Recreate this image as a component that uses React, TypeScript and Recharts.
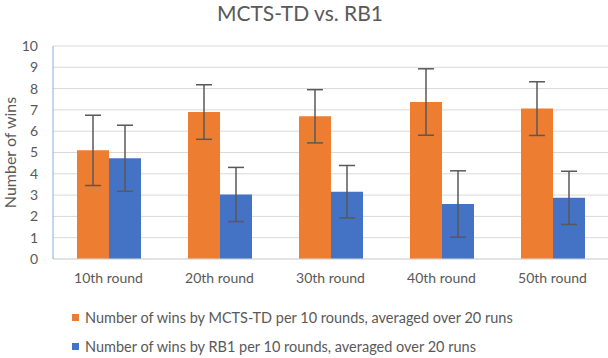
import { Bar, BarChart, CartesianGrid, ErrorBar, Label, Legend, XAxis, YAxis } from "recharts";

const categories = ["10th round", "20th round", "30th round", "40th round", "50th round"];
const mctsWins = [5.1, 6.9, 6.7, 7.37, 7.06];
const mctsErr = [1.65, 1.28, 1.25, 1.56, 1.26];
const rb1Wins = [4.73, 3.03, 3.16, 2.58, 2.87];
const rb1Err = [1.55, 1.27, 1.23, 1.56, 1.25];
const yTicks = [0, 1, 2, 3, 4, 5, 6, 7, 8, 9, 10];

const MCTS_LABEL = "Number of wins by MCTS-TD per 10 rounds, averaged over 20 runs";
const RB1_LABEL = "Number of wins by RB1 per 10 rounds, averaged over 20 runs";

const ORANGE = "#ED7D31";
const BLUE = "#4472C4";
const TEXT = "#595959";
const FONT = "Lato, 'Noto Sans', sans-serif";

const data = categories.map((name, i) => ({
  name,
  mcts: mctsWins[i],
  mctsErr: mctsErr[i],
  rb1: rb1Wins[i],
  rb1Err: rb1Err[i],
}));

function LegendBox() {
  const items = [
    { label: MCTS_LABEL, color: ORANGE },
    { label: RB1_LABEL, color: BLUE },
  ];
  return (
    <div style={{ fontFamily: FONT, fontSize: 14.5, color: TEXT, textAlign: "left" }}>
      {items.map((item) => (
        <div
          key={item.label}
          style={{ display: "flex", alignItems: "center", height: 29 }}
        >
          <span
            style={{
              display: "inline-block",
              width: 7,
              height: 7,
              background: item.color,
              marginRight: 6,
            }}
          />
          {item.label}
        </div>
      ))}
    </div>
  );
}

export default function App() {
  return (
    <div
      style={{
        position: "absolute",
        left: 0,
        top: 0,
        width: 608,
        height: 358,
        background: "#fff",
        fontFamily: FONT,
      }}
    >
      <div
        style={{
          position: "absolute",
          top: 0,
          left: 0,
          width: 600,
          textAlign: "center",
          fontSize: 21,
          color: TEXT,
          lineHeight: "26px",
        }}
      >
        MCTS-TD vs. RB1
      </div>
      <BarChart
        width={608}
        height={358}
        data={data}
        margin={{ top: 46, right: 0, bottom: 11, left: 0 }}
        barSize={32}
        barGap={0}
      >
        <CartesianGrid vertical={false} stroke="#d9d9d9" />
        <XAxis
          dataKey="name"
          tickLine={false}
          axisLine={{ stroke: "#d9d9d9" }}
          tickSize={0}
          tickMargin={14}
          height={30}
          interval={0}
          tick={{ fill: TEXT, fontSize: 14, fontFamily: FONT }}
        />
        <YAxis
          domain={[0, 10]}
          ticks={yTicks}
          interval={0}
          width={53}
          tickLine={false}
          tickSize={0}
          tickMargin={15}
          axisLine={{ stroke: "#8FAADC" }}
          tick={{ fill: TEXT, fontSize: 14, fontFamily: FONT }}
        >
          <Label
            value="Number of wins"
            angle={-90}
            position="center"
            dx={-16}
            style={{ fill: TEXT, fontSize: 16, fontFamily: FONT }}
          />
        </YAxis>
        <Legend
          verticalAlign="bottom"
          align="left"
          layout="horizontal"
          content={() => <LegendBox />}
          wrapperStyle={{ left: 72, top: 303, width: 520, height: 58 }}
        />
        <Bar dataKey="mcts" name={MCTS_LABEL} fill={ORANGE} isAnimationActive={false}>
          <ErrorBar
            dataKey="mctsErr"
            width={8}
            stroke={TEXT}
            strokeWidth={1.5}
            direction="y"
            isAnimationActive={false}
          />
        </Bar>
        <Bar dataKey="rb1" name={RB1_LABEL} fill={BLUE} isAnimationActive={false}>
          <ErrorBar
            dataKey="rb1Err"
            width={8}
            stroke={TEXT}
            strokeWidth={1.5}
            direction="y"
            isAnimationActive={false}
          />
        </Bar>
      </BarChart>
    </div>
  );
}
